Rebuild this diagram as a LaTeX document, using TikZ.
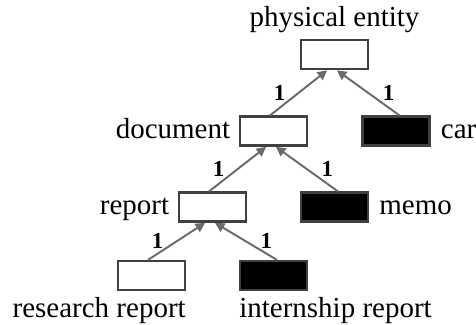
\documentclass[tikz,border=0pt]{standalone}
\usepackage{fontspec}
\setmainfont{Liberation Serif}
\usetikzlibrary{arrows.meta}
\definecolor{boxline}{HTML}{404040}
\definecolor{linkgray}{HTML}{6A6A6A}

\tikzset{
  entity/.style={draw=boxline, line width=1.2pt, fill=white,
    minimum width=1.34cm, minimum height=0.58cm, inner sep=0pt},
  instance/.style={entity, fill=black},
  link/.style={draw=linkgray, line width=1.1pt,
    -{Triangle[length=5.4pt,width=5.4pt]}, shorten >=0.3pt},
  card/.style={font=\fontsize{13}{15}\selectfont\bfseries, inner sep=0pt},
  entname/.style={font=\fontsize{16.5}{19.8}\selectfont, inner sep=0pt}
}

\begin{document}
\begin{tikzpicture}
  \useasboundingbox (0,0) rectangle (9.52,-6.5);

  % Boxes
  \node[entity]   (phys)   at (6.69,-1.09) {};
  \node[entity]   (doc)    at (5.47,-2.62) {};
  \node[instance] (car)    at (7.92,-2.62) {};
  \node[entity]   (rep)    at (4.25,-4.14) {};
  \node[instance] (memo)   at (6.69,-4.14) {};
  \node[entity]   (resrep) at (3.03,-5.51) {};
  \node[instance] (intrep) at (5.47,-5.51) {};

  % Names
  \node[entname, anchor=base] (physN) at ([yshift=0.24cm]phys.north) {physical entity};
  \node[entname, anchor=base east] (docN) at ([xshift=-0.17cm,yshift=-0.16cm]doc.west) {document};
  \node[entname, anchor=base west] (carN) at ([xshift=0.2cm,yshift=-0.16cm]car.east) {car};
  \node[entname, anchor=base east] (repN) at ([xshift=-0.17cm,yshift=-0.16cm]rep.west) {report};
  \node[entname, anchor=base west] (memoN) at ([xshift=0.2cm,yshift=-0.16cm]memo.east) {memo};
  \node[entname, anchor=base east] (resrepN) at ([yshift=-0.53cm]resrep.south east) {research report};
  \node[entname, anchor=base west] (intrepN) at ([yshift=-0.53cm]intrep.south west) {internship report};

  % Links, each with its cardinality
  \draw[link] ([xshift=-0.07cm]doc.north) -- ([xshift=-0.14cm]phys.south)
    node[card, midway, left=0.25cm] {1};
  \draw[link] ([xshift=0.07cm]car.north) -- ([xshift=0.04cm]phys.south)
    node[card, midway, right=0.28cm] {1};
  \draw[link] ([xshift=-0.07cm]rep.north) -- ([xshift=-0.14cm]doc.south)
    node[card, midway, left=0.25cm] {1};
  \draw[link] ([xshift=0.07cm]memo.north) -- ([xshift=0.04cm]doc.south)
    node[card, midway, right=0.28cm] {1};
  \draw[link] ([xshift=-0.07cm]resrep.north) -- ([xshift=-0.14cm]rep.south)
    node[card, midway, left=0.25cm] {1};
  \draw[link] ([xshift=0.07cm]intrep.north) -- ([xshift=0.04cm]rep.south)
    node[card, midway, right=0.28cm] {1};
\end{tikzpicture}
\end{document}
